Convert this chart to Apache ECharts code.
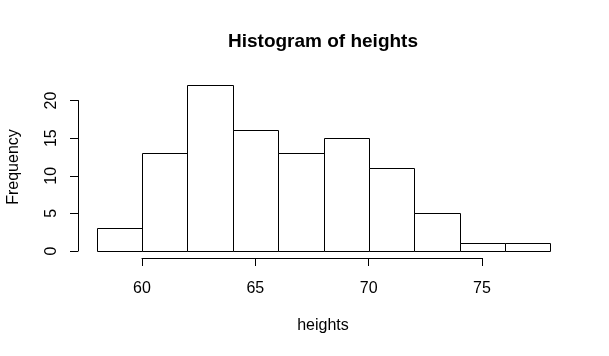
<!DOCTYPE html>
<html><head><meta charset="utf-8">
<script src="https://cdn.jsdelivr.net/npm/echarts@6/dist/echarts.min.js"></script>
<style>html,body{margin:0;padding:0;background:#fff}#c{width:609px;height:356px}</style>
</head><body><div id="c"></div>
<script>
const binStarts = [58, 60, 62, 64, 66, 68, 70, 72, 74, 76];
const binEnds   = [60, 62, 64, 66, 68, 70, 72, 74, 76, 78];
const counts    = [3, 13, 22, 16, 13, 15, 11, 5, 1, 1];
const xTicks = [60, 65, 70, 75];
const yTicks = [0, 5, 10, 15, 20];

const font = 'Liberation Sans, Arial, sans-serif';
const data = binStarts.map((s, i) => [s, binEnds[i], counts[i]]);

const chart = echarts.init(document.getElementById('c'), null, {renderer: 'canvas'});
chart.setOption({
  animation: false,
  backgroundColor: '#fff',
  graphic: [
    {type: 'text', x: 323, y: 42,
     style: {text: 'Histogram of heights', font: 'bold 19px ' + font, fill: '#000', textAlign: 'center', textVerticalAlign: 'middle'}},
    {type: 'text', x: 14, y: 167, rotation: Math.PI / 2,
     style: {text: 'Frequency', font: '16px ' + font, fill: '#000', textAlign: 'center', textVerticalAlign: 'middle'}},
    {type: 'text', x: 323, y: 326,
     style: {text: 'heights', font: '16px ' + font, fill: '#000', textAlign: 'center', textVerticalAlign: 'middle'}}
  ],
  grid: [
    {left: 96.7, width: 453.6, top: 85.3, height: 165.7, containLabel: false},
    {left: 142, width: 340, top: 100.5, height: 150.5, containLabel: false}
  ],
  xAxis: [
    {gridIndex: 0, type: 'value', min: 58, max: 78, show: false},
    {gridIndex: 1, type: 'value', min: 60, max: 75, interval: 5, offset: 7,
     axisLine: {show: true, onZero: false, lineStyle: {color: '#000', width: 1}},
     axisTick: {show: true, length: 8, lineStyle: {color: '#000'}},
     axisLabel: {margin: 23, fontFamily: font, fontSize: 16, color: '#000',
       customValues: xTicks},
     splitLine: {show: false}}
  ],
  yAxis: [
    {gridIndex: 0, type: 'value', min: 0, max: 22, show: false},
    {gridIndex: 1, type: 'value', min: 0, max: 20, interval: 5, offset: 64,
     axisLine: {show: true, onZero: false, lineStyle: {color: '#000', width: 1}},
     axisTick: {show: true, length: 8, lineStyle: {color: '#000'}},
     axisLabel: {margin: 18, rotate: 90, fontFamily: font, fontSize: 16, color: '#000',
       customValues: yTicks},
     splitLine: {show: false}}
  ],
  series: [{
    type: 'custom', xAxisIndex: 0, yAxisIndex: 0,
    data: data,
    renderItem: function (params, api) {
      const p0 = api.coord([api.value(0), 0]);
      const p1 = api.coord([api.value(1), api.value(2)]);
      return {
        type: 'rect',
        shape: {x: Math.round(p0[0]) + 0.5, y: Math.round(p1[1]) + 0.5,
                width: Math.round(p1[0]) - Math.round(p0[0]),
                height: Math.round(p0[1]) - Math.round(p1[1])},
        style: {fill: '#fff', stroke: '#000', lineWidth: 1}
      };
    }
  }]
});
</script></body></html>
